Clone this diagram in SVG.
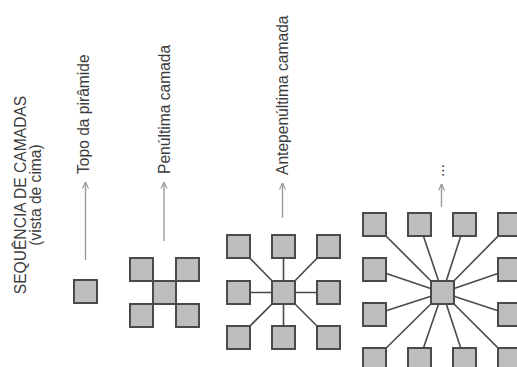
<svg xmlns="http://www.w3.org/2000/svg" width="517" height="367" viewBox="0 0 517 367">
<style>
.lbl{font-family:"Liberation Sans",Arial,sans-serif;font-size:15.6px;fill:#3c3c3c}
.sq{fill:#bdbdbd;stroke:#4a4a4a;stroke-width:2}
.ln{stroke:#4a4a4a;stroke-width:1.6;fill:none}
.ar{stroke:#9a9a9a;stroke-width:1.4;fill:none}
</style>
<defs>
<marker id="ah" viewBox="0 0 8 8" refX="7.5" refY="4" markerWidth="8" markerHeight="8" markerUnits="userSpaceOnUse" orient="auto">
<path d="M1,1 L7.5,4 L1,7" fill="none" stroke="#9a9a9a" stroke-width="1.2"/>
</marker>
</defs>
<rect width="517" height="367" fill="#fff"/>
<g id="title">
<text class="lbl" text-anchor="middle" transform="translate(25.5,195) rotate(-90)">SEQUÊNCIA DE CAMADAS</text>
<text class="lbl" text-anchor="middle" transform="translate(41,195) rotate(-90)">(vista de cima)</text>
</g>
<g id="labels">
<text class="lbl" transform="translate(89,174) rotate(-90)">Topo da pirâmide</text>
<text class="lbl" transform="translate(169.5,174) rotate(-90)">Penúltima camada</text>
<text class="lbl" transform="translate(287.5,175) rotate(-90)">Antepenúltima camada</text>
<text class="lbl" transform="translate(443.5,177) rotate(-90)">...</text>
</g>
<g id="connectors">
<line class="ar" x1="85.5" y1="260" x2="85.5" y2="182" marker-end="url(#ah)"/>
<line class="ar" x1="164" y1="241" x2="164" y2="182" marker-end="url(#ah)"/>
<line class="ar" x1="282.5" y1="218" x2="282.5" y2="183" marker-end="url(#ah)"/>
<line class="ar" x1="441.5" y1="207" x2="441.5" y2="184" marker-end="url(#ah)"/>
<g id="ante-links">
<line class="ln" x1="283.5" y1="292.5" x2="238.5" y2="246.5"/>
<line class="ln" x1="283.5" y1="292.5" x2="283.5" y2="246.5"/>
<line class="ln" x1="283.5" y1="292.5" x2="328.5" y2="246.5"/>
<line class="ln" x1="283.5" y1="292.5" x2="238.5" y2="292.5"/>
<line class="ln" x1="283.5" y1="292.5" x2="328.5" y2="292.5"/>
<line class="ln" x1="283.5" y1="292.5" x2="238.5" y2="337.5"/>
<line class="ln" x1="283.5" y1="292.5" x2="283.5" y2="337.5"/>
<line class="ln" x1="283.5" y1="292.5" x2="328.5" y2="337.5"/>
</g>
<g id="base-links">
<line class="ln" x1="442.5" y1="292.5" x2="374.5" y2="224.5"/>
<line class="ln" x1="442.5" y1="292.5" x2="419.5" y2="224.5"/>
<line class="ln" x1="442.5" y1="292.5" x2="464.5" y2="224.5"/>
<line class="ln" x1="442.5" y1="292.5" x2="509.5" y2="224.5"/>
<line class="ln" x1="442.5" y1="292.5" x2="374.5" y2="269.5"/>
<line class="ln" x1="442.5" y1="292.5" x2="509.5" y2="269.5"/>
<line class="ln" x1="442.5" y1="292.5" x2="374.5" y2="314.5"/>
<line class="ln" x1="442.5" y1="292.5" x2="509.5" y2="314.5"/>
<line class="ln" x1="442.5" y1="292.5" x2="374.5" y2="359.5"/>
<line class="ln" x1="442.5" y1="292.5" x2="419.5" y2="359.5"/>
<line class="ln" x1="442.5" y1="292.5" x2="464.5" y2="359.5"/>
<line class="ln" x1="442.5" y1="292.5" x2="509.5" y2="359.5"/>
</g>
</g>
<g id="layer-top">
<rect class="sq" x="74" y="280" width="23" height="23"/>
</g>
<g id="layer-penultimate">
<rect class="sq" x="130" y="258" width="23" height="23"/>
<rect class="sq" x="176" y="258" width="23" height="23"/>
<rect class="sq" x="130" y="304" width="23" height="23"/>
<rect class="sq" x="176" y="304" width="23" height="23"/>
<rect class="sq" x="153" y="281" width="23" height="23"/>
</g>
<g id="layer-antepenultimate">
<rect class="sq" x="227" y="235" width="23" height="23"/>
<rect class="sq" x="272" y="235" width="23" height="23"/>
<rect class="sq" x="317" y="235" width="23" height="23"/>
<rect class="sq" x="227" y="281" width="23" height="23"/>
<rect class="sq" x="272" y="281" width="23" height="23"/>
<rect class="sq" x="317" y="281" width="23" height="23"/>
<rect class="sq" x="227" y="326" width="23" height="23"/>
<rect class="sq" x="272" y="326" width="23" height="23"/>
<rect class="sq" x="317" y="326" width="23" height="23"/>
</g>
<g id="layer-base">
<rect class="sq" x="363" y="213" width="23" height="23"/>
<rect class="sq" x="408" y="213" width="23" height="23"/>
<rect class="sq" x="453" y="213" width="23" height="23"/>
<rect class="sq" x="498" y="213" width="23" height="23"/>
<rect class="sq" x="363" y="258" width="23" height="23"/>
<rect class="sq" x="498" y="258" width="23" height="23"/>
<rect class="sq" x="363" y="303" width="23" height="23"/>
<rect class="sq" x="498" y="303" width="23" height="23"/>
<rect class="sq" x="363" y="348" width="23" height="23"/>
<rect class="sq" x="408" y="348" width="23" height="23"/>
<rect class="sq" x="453" y="348" width="23" height="23"/>
<rect class="sq" x="498" y="348" width="23" height="23"/>
<rect class="sq" x="431" y="281" width="23" height="23"/>
</g>
</svg>
